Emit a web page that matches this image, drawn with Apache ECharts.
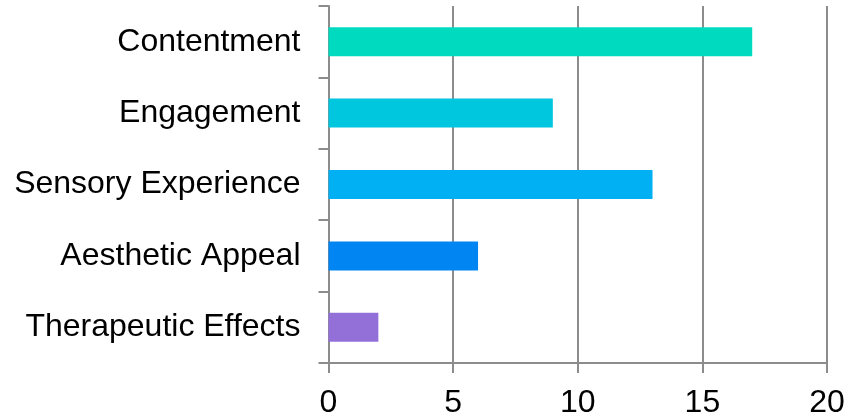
<!DOCTYPE html>
<html>
<head>
<meta charset="utf-8">
<script src="https://cdn.jsdelivr.net/npm/echarts@6/dist/echarts.min.js"></script>
<style>html,body{margin:0;padding:0;background:#fff;}#chart{width:849px;height:419px;}</style>
</head>
<body>
<div id="chart"></div>
<script>
const categories = ["Contentment", "Engagement", "Sensory Experience", "Aesthetic Appeal", "Therapeutic Effects"];
const values = [17, 9, 13, 6, 2];
const barColors = ["#00DBBF", "#00C6DE", "#00B0F2", "#0085F3", "#9370D8"];
const xTicks = { min: 0, max: 20, interval: 5 };

const chart = echarts.init(document.getElementById('chart'), null, { renderer: 'canvas' });
const axisColor = '#8c8c8c';
const font = 'Liberation Sans, Arial, sans-serif';
chart.setOption({
  animation: false,
  grid: { left: 328.5, right: 22, top: 6, bottom: 54, containLabel: false },
  xAxis: {
    type: 'value', min: xTicks.min, max: xTicks.max, interval: xTicks.interval,
    axisLine: { show: true, lineStyle: { color: axisColor, width: 2 } },
    axisTick: { show: true, length: 10, lineStyle: { color: axisColor, width: 2 } },
    splitLine: { show: true, lineStyle: { color: axisColor, width: 2 } },
    axisLabel: { color: '#000', fontSize: 32, fontFamily: font, margin: 24 }
  },
  yAxis: {
    type: 'category', data: categories, inverse: true,
    axisLine: { show: true, lineStyle: { color: axisColor, width: 2 } },
    axisTick: { show: true, length: 10, alignWithLabel: false, lineStyle: { color: axisColor, width: 2 } },
    splitLine: { show: false },
    axisLabel: { color: '#000', fontSize: 32, fontFamily: font, margin: 28 }
  },
  series: [{
    type: 'bar',
    data: values.map((v, i) => ({ value: v, itemStyle: { color: barColors[i] } })),
    barWidth: 29
  }]
});
</script>
</body>
</html>
